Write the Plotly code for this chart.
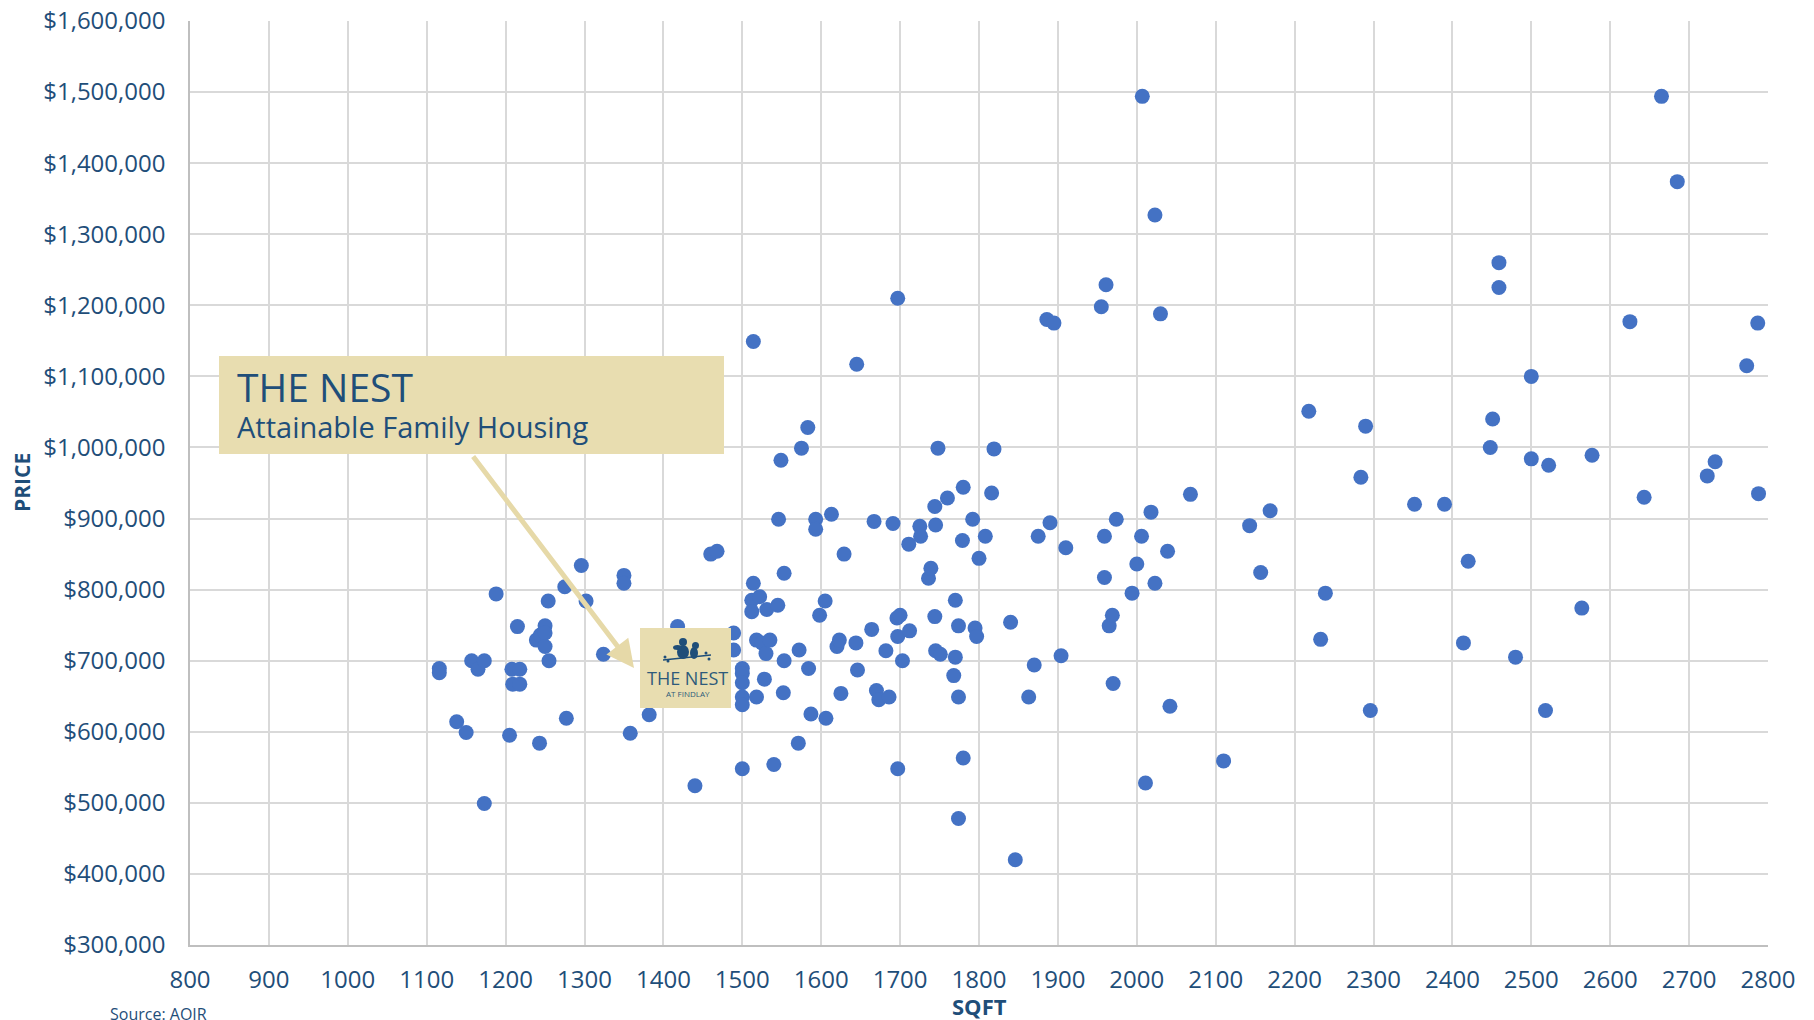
import plotly.graph_objects as go

# ---- data ----
sqft = [1116, 1116, 1138, 1150, 1157, 1165, 1173, 1173, 1188, 1205, 1208, 1218, 1209, 1218, 1215,
        1243, 1239, 1244, 1250, 1250, 1250, 1255, 1254, 1275, 1277, 1296, 1302, 1324, 1350, 1350,
        1358, 1382, 1418, 1440, 1460, 1468, 1489, 1489, 1500, 1500, 1500, 1500, 1500, 1500,
        1512, 1512, 1514, 1514, 1518, 1518, 1522, 1525, 1528, 1530, 1531, 1535, 1540, 1545, 1546,
        1549, 1552, 1553, 1553, 1571, 1572, 1575, 1583, 1584, 1587, 1593, 1593, 1598, 1605, 1606,
        1613, 1620, 1623, 1625, 1629, 1644, 1645, 1646, 1664, 1667, 1670, 1673, 1682, 1686, 1691,
        1696, 1697, 1697, 1697, 1700, 1703, 1711, 1712, 1725, 1726, 1736, 1739, 1744, 1744, 1745,
        1745, 1748, 1751, 1760, 1768, 1770, 1770, 1774, 1774, 1774, 1779, 1780, 1780, 1792, 1795,
        1797, 1800, 1808, 1816, 1819, 1840, 1846, 1863, 1870, 1875, 1886, 1890, 1895, 1904, 1910,
        1955, 1959, 1959, 1961, 1965, 1969, 1970, 1974, 1994, 2000, 2006, 2007, 2011, 2018, 2023,
        2023, 2030, 2039, 2042, 2068, 2110, 2143, 2157, 2169, 2218, 2233, 2239, 2284, 2290, 2296,
        2352, 2390, 2414, 2420, 2448, 2451, 2459, 2459, 2480, 2500, 2500, 2518, 2522, 2564, 2577,
        2625, 2643, 2665, 2685, 2723, 2733, 2773, 2787, 2788]
price_k = [689, 683, 614, 599, 700, 688, 700, 499, 794, 595, 688, 688, 667, 667, 748,
           584, 729, 736, 749, 739, 720, 700, 784, 804, 619, 834, 784, 709, 820, 809,
           598, 624, 748, 524, 850, 854, 739, 715, 689, 682, 669, 649, 638, 548,
           785, 769, 809, 1149, 649, 729, 790, 725, 674, 710, 772, 729, 554, 778, 899,
           982, 655, 823, 700, 584, 715, 999, 1028, 689, 625, 899, 885, 764, 784, 619,
           906, 720, 729, 654, 850, 725, 1117, 687, 744, 896, 658, 645, 714, 649, 893,
           760, 548, 734, 1210, 764, 700, 864, 742, 889, 875, 816, 830, 917, 762, 891,
           714, 999, 709, 929, 679, 785, 705, 749, 649, 478, 869, 944, 563, 899, 746,
           734, 844, 875, 936, 998, 754, 420, 649, 694, 875, 1180, 894, 1175, 707, 859,
           1198, 875, 817, 1229, 749, 764, 668, 899, 795, 836, 875, 1494, 528, 909, 809,
           1327, 1188, 854, 636, 934, 559, 890, 824, 911, 1051, 730, 795, 958, 1030, 630,
           920, 920, 725, 840, 1000, 1040, 1225, 1260, 705, 984, 1100, 630, 975, 774, 989,
           1177, 930, 1494, 1374, 960, 980, 1115, 1175, 935]
price = [p * 1000 for p in price_k]

x_range = [800, 2800]
y_range = [300000, 1600000]

title_main = "THE NEST"
title_sub = "Attainable Family Housing"
logo_main = "THE NEST"
logo_sub = "AT FINDLAY"
source_text = "Source: AOIR"

# ---- styling ----
OFF = 8  # default page body margin
W, H = 1814 - OFF, 1020 - OFF
L, R, T, B = 182, 46, 13, 75
PW, PH = W - L - R, H - T - B
TXT = "#1F4E79"
BEIGE = "#E8DDB0"
FONT = "Open Sans"


def px(xp, yp):
    """page pixel position -> paper coordinates"""
    return (xp - OFF - L) / PW, (H - B - (yp - OFF)) / PH


fig = go.Figure()
fig.add_trace(go.Scatter(
    x=sqft, y=price, mode="markers",
    marker=dict(color="#4472C4", size=15, line=dict(width=0)),
    hoverinfo="x+y", showlegend=False))

shapes = []
annotations = []

# headline box
x0, y0 = px(219, 454)
x1, y1 = px(724, 356)
shapes.append(dict(type="rect", xref="paper", yref="paper", x0=x0, y0=y0, x1=x1, y1=y1,
                   fillcolor=BEIGE, line=dict(width=0), layer="above"))
ax_, ay_ = px(235, 386)
annotations.append(dict(xref="paper", yref="paper", x=ax_, y=ay_, xanchor="left", yanchor="middle",
                        text=title_main, showarrow=False, font=dict(family=FONT, size=39, color=TXT)))
ax_, ay_ = px(235, 426)
annotations.append(dict(xref="paper", yref="paper", x=ax_, y=ay_, xanchor="left", yanchor="middle",
                        text=title_sub, showarrow=False, font=dict(family=FONT, size=29, color=TXT)))

# arrow from headline box to logo
hx, hy = px(634, 668)
annotations.append(dict(xref="paper", yref="paper", x=hx, y=hy, axref="pixel", ayref="pixel",
                        ax=472 - 634, ay=455 - 668, text="", showarrow=True, arrowhead=2,
                        arrowsize=1.1, arrowwidth=5, arrowcolor="#E6D9A8", standoff=0,
                        startstandoff=0))

# logo
x0, y0 = px(640, 708)
x1, y1 = px(731, 628)
shapes.append(dict(type="rect", xref="paper", yref="paper", x0=x0, y0=y0, x1=x1, y1=y1,
                   fillcolor=BEIGE, line=dict(width=0), layer="above"))
# branch
bx0, by0 = px(663, 660)
bx1, by1 = px(711, 655)
shapes.append(dict(type="line", xref="paper", yref="paper", x0=bx0, y0=by0, x1=bx1, y1=by1,
                   line=dict(color=TXT, width=1.5), layer="above"))
# birds (bodies and heads)
for (cx0, cy0, cx1, cy1) in [(677, 645, 689, 659), (673, 645, 682, 650), (690, 647, 698, 659),
                             (692, 642, 699, 649), (679, 638, 687, 646)]:
    a0, b0 = px(cx0, cy1)
    a1, b1 = px(cx1, cy0)
    shapes.append(dict(type="circle", xref="paper", yref="paper", x0=a0, y0=b0, x1=a1, y1=b1,
                       fillcolor=TXT, line=dict(width=0), layer="above"))
for (cx, cy) in [(665, 657), (706, 653), (709, 659), (668, 661)]:
    a0, b0 = px(cx - 1.5, cy + 1.5)
    a1, b1 = px(cx + 1.5, cy - 1.5)
    shapes.append(dict(type="circle", xref="paper", yref="paper", x0=a0, y0=b0, x1=a1, y1=b1,
                       fillcolor=TXT, line=dict(width=0), layer="above"))
lx, ly = px(687, 678)
annotations.append(dict(xref="paper", yref="paper", x=lx, y=ly, xanchor="center", yanchor="middle",
                        text=logo_main, showarrow=False,
                        font=dict(family=FONT, size=18, color="#2E5A7A")))
lx, ly = px(688, 693)
annotations.append(dict(xref="paper", yref="paper", x=lx, y=ly, xanchor="center", yanchor="middle",
                        text=logo_sub, showarrow=False,
                        font=dict(family=FONT, size=8, color="#2E5A7A")))

# axis titles and source
annotations.append(dict(xref="paper", yref="paper", x=px(22, 0)[0], y=0.5, xanchor="center",
                        yanchor="middle", text="<b>PRICE</b>", textangle=-90, showarrow=False,
                        font=dict(family=FONT, size=21, color=TXT)))
annotations.append(dict(xref="paper", yref="paper", x=0.5, y=px(0, 1006)[1], xanchor="center",
                        yanchor="middle", text="<b>SQFT</b>", showarrow=False,
                        font=dict(family=FONT, size=22, color=TXT)))
sx, sy = px(108, 1014)
annotations.append(dict(xref="paper", yref="paper", x=sx, y=sy, xanchor="left", yanchor="middle",
                        text=source_text, showarrow=False, font=dict(family=FONT, size=16, color=TXT)))

fig.update_layout(
    width=W, height=H, margin=dict(l=L, r=R, t=T, b=B, pad=0),
    paper_bgcolor="white", plot_bgcolor="white",
    font=dict(family=FONT, color=TXT),
    shapes=shapes, annotations=annotations,
    xaxis=dict(range=x_range, dtick=100, tick0=800, showgrid=True, gridcolor="#D9D9D9",
               gridwidth=1.5, zeroline=False, showline=True, linecolor="#BFBFBF", linewidth=1.5,
               ticks="", ticklabelstandoff=12, automargin=False, ticklabeloverflow="allow",
               tickfont=dict(family=FONT, size=24, color=TXT)),
    yaxis=dict(range=y_range, dtick=100000, tick0=300000, showgrid=True, gridcolor="#D9D9D9",
               gridwidth=1.5, zeroline=False, showline=True, linecolor="#BFBFBF", linewidth=1.5,
               ticks="", tickprefix="$", tickformat=",d", ticklabelstandoff=18, automargin=False,
               ticklabeloverflow="allow",
               tickfont=dict(family=FONT, size=24, color=TXT)),
)

fig.write_html("out.html")
